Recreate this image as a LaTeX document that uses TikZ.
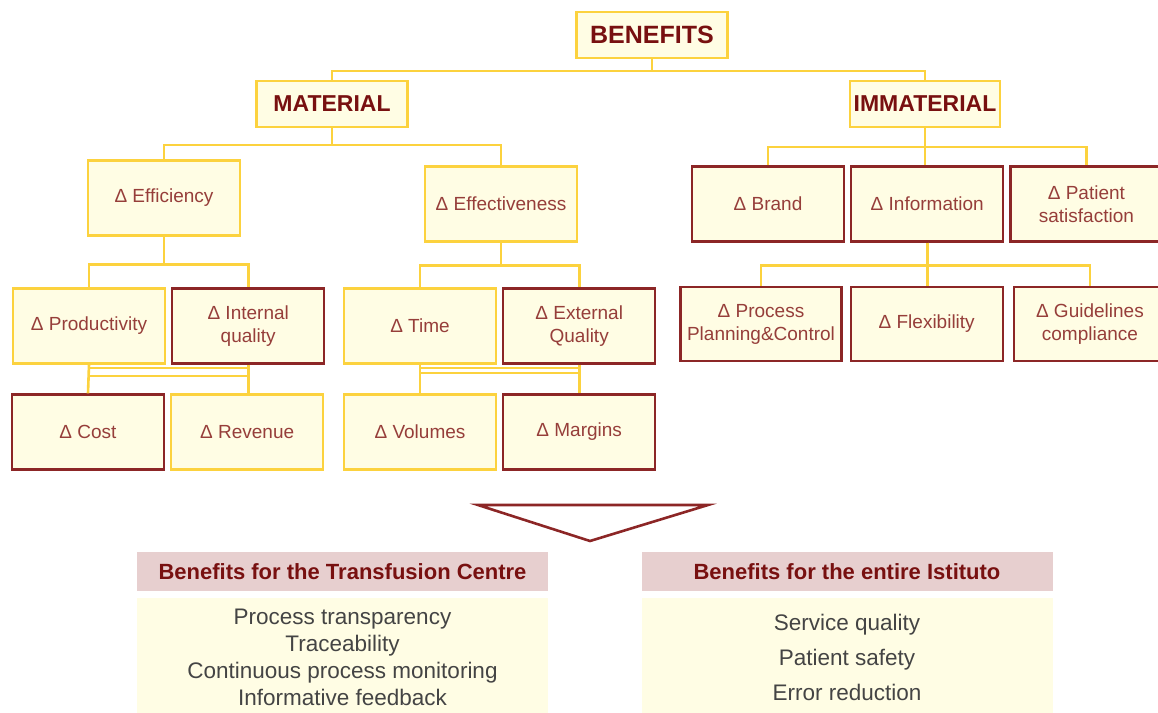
\documentclass[tikz,border=0pt]{standalone}
\usepackage{fontspec}
\setmainfont{Liberation Sans}
\usetikzlibrary{positioning}
\definecolor{benegold}{RGB}{252,210,62}
\definecolor{benered}{RGB}{140,38,38}
\definecolor{benetext}{RGB}{150,62,58}
\definecolor{beneink}{RGB}{120,16,16}
\definecolor{benecream}{RGB}{255,253,228}
\definecolor{benepink}{RGB}{231,207,207}
\definecolor{benegrey}{RGB}{68,68,68}

\begin{document}
\begin{tikzpicture}[x=1pt, y=-1pt,
  box/.style={rectangle, fill=benecream, line width=2.2pt, minimum width=152pt, minimum height=75pt,
              inner sep=2pt, align=center, text=benetext, font=\fontsize{19}{23}\selectfont},
  goldbox/.style={box, draw=benegold},
  redbox/.style={box, draw=benered},
  topbox/.style={goldbox, minimum height=46pt, text=beneink, font=\fontsize{23}{26}\selectfont\bfseries},
  link/.style={benegold, line width=2.6pt},
  rung/.style={benegold, line width=2pt},
  headbox/.style={rectangle, fill=benepink, minimum width=411pt, minimum height=39pt,
                  text=beneink, font=\fontsize{22}{24}\selectfont\bfseries},
  bodybox/.style={rectangle, fill=benecream, minimum width=411pt, minimum height=118pt,
                  align=center, text=benegrey}
]
\useasboundingbox (0,0) rectangle (1158,712);

% top of the tree
\node[topbox, minimum width=151pt, font=\fontsize{25}{28}\selectfont\bfseries] (benefits) at (652,35) {BENEFITS};
\node[topbox, minimum width=151pt] (material)   at (332,104) {MATERIAL};
\node[topbox, minimum width=150pt] (immaterial) at (925,104) {IMMATERIAL};

\node[goldbox] (efficiency) at (164,198) {Δ Efficiency};
\node[goldbox] (effective)  at (501,204) {Δ Effectiveness};
\node[redbox]  (brand)       at (768,204) {Δ Brand};
\node[redbox, right=5pt of brand]       (information) {Δ Information};
\node[redbox, right=5pt of information] (patient)     {Δ Patient\\satisfaction};

% third row
\node[goldbox] (productivity) at (89,326) {Δ Productivity};
\node[redbox, right=5pt of productivity] (intquality) {Δ Internal\\quality};
\node[goldbox] (time) at (420,326) {Δ Time};
\node[redbox, right=5pt of time] (extquality) {Δ External\\Quality};
\node[redbox, minimum width=161pt, minimum height=74pt] (planning) at (761,324) {Δ Process\\Planning\&Control};
\node[redbox, minimum height=74pt, right=7pt of planning]    (flexibility) {Δ Flexibility};
\node[redbox, minimum height=74pt, right=9pt of flexibility] (guidelines)  {Δ Guidelines\\compliance};

% fourth row
\node[redbox]  (cost) at (88,432) {Δ Cost};
\node[goldbox, right=5pt of cost] (revenue) {Δ Revenue};
\node[goldbox] (volumes) at (420,432) {Δ Volumes};
\node[redbox, right=5pt of volumes] (margins) {Δ Margins};

% connectors
\draw[link] (benefits.south) -- ++(0,12) -| (material.north);
\draw[link] (benefits.south) -- ++(0,12) -| (immaterial.north);
\draw[link] (material.south) -- ++(0,17) -| (efficiency.north);
\draw[link] (material.south) -- ++(0,17) -| (effective.north);
\draw[link] (immaterial.south) -- ++(0,19) -| (brand.north);
\draw[link] (immaterial.south) -- (immaterial.south |- information.north);
\draw[link] (immaterial.south) -- ++(0,19) -| (patient.north);
\draw[link] (efficiency.south) -- ++(0,28) -| (productivity.north);
\draw[link] (efficiency.south) -- ++(0,28) -| (intquality.north);
\draw[link] (effective.south) -- ++(0,23) -| (time.north);
\draw[link] (effective.south) -- ++(0,23) -| (extquality.north);
\draw[link] (information.south) -- ++(0,23) -| (planning.north);
\draw[link] (information.south) -- (information.south |- flexibility.north);
\draw[link] (information.south) -- ++(0,23) -| (guidelines.north);

% ladders between third and fourth row
\draw[link] (productivity.south) -- (cost.north);
\draw[link] (intquality.south) -- (intquality.south |- revenue.north);
\draw[rung] ([yshift=-3pt]productivity.south) -- ([yshift=-3pt]intquality.south);
\draw[rung] ([yshift=17pt]cost.north) -- ([yshift=17pt]cost.north -| intquality.south);
\draw[link] (time.south) -- (volumes.north);
\draw[link] (extquality.south) -- (margins.north);
\draw[rung] ([yshift=-3pt]time.south) -- ([yshift=-3pt]extquality.south);
\draw[rung] ([yshift=20pt]volumes.north) -- ([yshift=20pt]margins.north);

% down arrow
\draw[benered, line width=2.6pt, fill=white, line join=miter] (478,505) -- (708,505) -- (590,541) -- cycle;

% summary panels
\node[headbox] (centrehead) at (342.5,571.5) {Benefits for the Transfusion Centre};
\node[bodybox, below=7pt of centrehead, font=\fontsize{22.5}{27}\selectfont] (centrebody)
  {Process transparency\\Traceability\\Continuous process monitoring\\Informative feedback};
\node[headbox] (istitutohead) at (847,571.5) {Benefits for the entire Istituto};
\node[bodybox, below=7pt of istitutohead, font=\fontsize{22.5}{35}\selectfont] (istitutobody)
  {Service quality\\Patient safety\\Error reduction};
\end{tikzpicture}
\end{document}
